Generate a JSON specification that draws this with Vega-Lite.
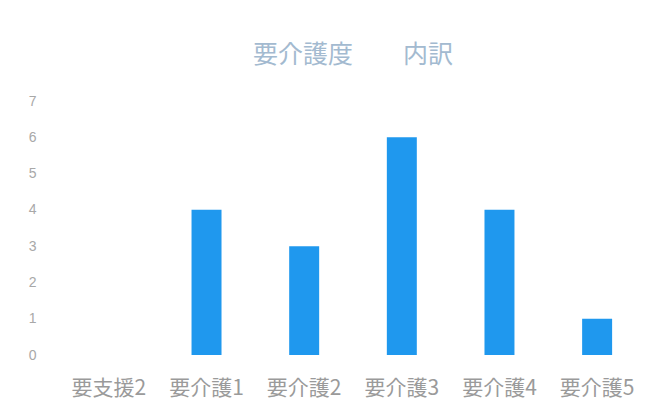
{
  "$schema": "https://vega.github.io/schema/vega-lite/v6.json",
  "width": 586,
  "height": 254,
  "autosize": {"type": "none"},
  "padding": {"left": 60, "top": 101, "right": 26, "bottom": 64},
  "background": "white",
  "title": {
    "text": "要介護度　　内訳",
    "fontSize": 25,
    "font": "Noto Sans CJK JP",
    "fontWeight": "normal",
    "color": "#a3bad0",
    "anchor": "middle",
    "offset": 26
  },
  "data": {
    "values": [
      {"category": "要支援2", "count": 0},
      {"category": "要介護1", "count": 4},
      {"category": "要介護2", "count": 3},
      {"category": "要介護3", "count": 6},
      {"category": "要介護4", "count": 4},
      {"category": "要介護5", "count": 1}
    ]
  },
  "mark": {"type": "bar", "color": "#1f98ee"},
  "encoding": {
    "x": {
      "field": "category",
      "type": "nominal",
      "sort": null,
      "scale": {"paddingInner": 0.693, "paddingOuter": 0.347},
      "axis": {
        "title": null,
        "labelAngle": 0,
        "domain": false,
        "ticks": false,
        "labelFontSize": 21,
        "labelFont": "Noto Sans CJK JP",
        "labelColor": "#9a9a9a",
        "labelPadding": 22
      }
    },
    "y": {
      "field": "count",
      "type": "quantitative",
      "scale": {"domain": [0, 7], "nice": false},
      "axis": {
        "title": null,
        "values": [0, 1, 2, 3, 4, 5, 6, 7],
        "grid": false,
        "domain": false,
        "ticks": false,
        "labelFontSize": 14,
        "labelColor": "#a8a8a8",
        "labelPadding": 24
      }
    }
  },
  "config": {"view": {"stroke": null}}
}
